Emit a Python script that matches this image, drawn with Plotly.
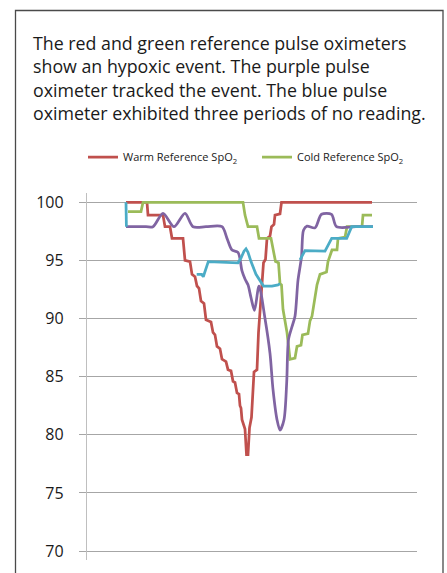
import plotly.graph_objects as go

# ---- data (time in seconds, SpO2 in %) ----
warm_t = [0, 21, 22, 37, 39, 44, 46, 57, 59, 64, 66, 69, 71, 73, 75, 78, 80, 85, 87, 89, 91, 94,
          96, 100, 102, 105, 107, 109, 111, 113, 114, 115, 116, 118, 119, 120.5, 122, 123.5, 125.5,
          128, 131, 132.5, 134, 136, 137.5, 139.5, 141, 144, 145.5, 148, 149, 154, 155.5, 246]
warm_v = [100, 100, 98.9, 98.9, 97.9, 97.9, 96.9, 96.9, 95.0, 94.9, 93.8, 93.6, 92.8, 92.6, 91.5, 91.3,
          89.9, 89.7, 88.8, 88.6, 87.6, 87.4, 86.5, 86.3, 85.6, 85.5, 84.6, 84.5, 83.6, 83.5, 82.5, 82.3,
          81.3, 80.6, 80.5, 78.3, 78.3, 80.6, 81.5, 85.4, 85.6, 88.8, 90.5, 92.5, 94.8, 95.1, 96.9, 97.1,
          97.9, 98.1, 98.9, 99.0, 100, 100]

cold_t = [2, 15, 17, 117, 119, 122, 131, 133, 145, 147, 149.5, 152.5, 154, 155.5, 157, 161, 164, 169,
          171, 175, 176.5, 182, 184, 186, 187.5, 189, 191, 194, 200.5, 202, 206, 211, 212, 219, 221,
          236, 237, 246]
cold_v = [99.2, 99.2, 100, 100, 98.9, 97.9, 97.9, 96.9, 96.9, 95.9, 94.9, 94.8, 93.0, 92.9, 90.8, 88.8,
          86.5, 86.6, 87.6, 87.7, 88.6, 88.7, 89.8, 90.2, 91.0, 91.9, 92.9, 93.8, 94.0, 94.9, 95.9, 95.9,
          96.9, 97.0, 97.9, 97.9, 98.9, 98.9]

purple_t = [0, 20, 27, 37, 48, 59, 67, 80, 96, 101, 106, 112, 116, 119, 122, 125, 128.5, 133, 139, 144,
            147, 151, 154, 158, 160.7, 162.5, 166, 169, 172, 175.5, 177.5, 181, 189, 195.5, 205.5,
            210.5, 230, 247]
purple_v = [97.9, 97.9, 97.9, 99.05, 97.9, 99.05, 97.9, 97.9, 97.9, 96.9, 95.9, 95.7, 94.1, 93.4, 92.9,
            91.8, 90.7, 92.8, 90.0, 87.0, 83.9, 81.3, 80.4, 81.3, 84.5, 88.2, 89.3, 90.2, 93.3, 95.3,
            97.6, 97.95, 97.8, 98.97, 98.97, 97.9, 97.9, 97.9]

blue_t = [0, 0.4, None, 70.7, 75.7, 77.3, 82.3, 112, 115, 118, 120, 122, 125, 130, 136, 137.5, 146,
          152, 154, None, 174, 179, 199, 205.7, 220.7, 225.7, 247]
blue_v = [100, 97.9, None, 93.8, 93.8, 93.6, 94.9, 94.8, 95.2, 95.8, 96.0, 95.7, 94.9, 93.8, 92.9, 92.8,
          92.8, 92.9, 93.0, None, 95.05, 95.85, 95.8, 96.9, 96.9, 97.9, 97.9]

y_ticks = [70, 75, 80, 85, 90, 95, 100]

title_lines = [
    "The red and green reference pulse oximeters",
    "show an hypoxic event. The purple pulse",
    "oximeter tracked the event. The blue pulse",
    "oximeter exhibited three periods of no reading.",
]

FONT = "Open Sans"
W, H = 447, 573
L, R, T, B = 87, 30, 193, 13
PW, PH = W - L - R, H - T - B


def px_x(px):
    return (px - L) / PW


def px_y(py):
    return (H - B - py) / PH


fig = go.Figure()
fig.add_trace(go.Scatter(x=warm_t, y=warm_v, mode="lines", name="Warm Reference SpO<sub>2</sub>",
                         line=dict(color="#C0504D", width=2.75)))
fig.add_trace(go.Scatter(x=cold_t, y=cold_v, mode="lines", name="Cold Reference SpO<sub>2</sub>",
                         line=dict(color="#9BBB59", width=2.75)))
fig.add_trace(go.Scatter(x=purple_t, y=purple_v, mode="lines", name="Purple pulse oximeter",
                         line=dict(color="#8064A2", width=2.75, shape="spline", smoothing=0.8),
                         showlegend=False))
fig.add_trace(go.Scatter(x=blue_t, y=blue_v, mode="lines", name="Blue pulse oximeter",
                         line=dict(color="#4BACC6", width=2.75), connectgaps=False,
                         showlegend=False))

baselines = [48.5, 72.2, 95.8, 119.4]
for txt, bl in zip(title_lines, baselines):
    fig.add_annotation(text=txt, xref="paper", yref="paper", x=px_x(31), y=px_y(bl - 6),
                       xanchor="left", yanchor="middle", showarrow=False,
                       font=dict(family=FONT, size=17.8, color="#1a1a1a"))

fig.add_shape(type="rect", xref="paper", yref="paper",
              x0=px_x(15.5), x1=px_x(443), y0=px_y(620), y1=px_y(10.5),
              line=dict(color="#4a4a4a", width=1.3), fillcolor="rgba(0,0,0,0)", layer="above")

fig.update_layout(
    width=W, height=H,
    margin=dict(l=L, r=R, t=T, b=B, pad=0, autoexpand=False),
    paper_bgcolor="white", plot_bgcolor="white",
    font=dict(family=FONT, color="#1a1a1a"),
    showlegend=True,
    legend=dict(orientation="h", x=px_x(83), y=px_y(157), xanchor="left", yanchor="middle",
                font=dict(family=FONT, size=11, color="#1a1a1a"),
                entrywidth=129, entrywidthmode="pixels", bgcolor="rgba(0,0,0,0)",
                itemwidth=30, tracegroupgap=0),
    xaxis=dict(range=[-39, 291], showgrid=False, zeroline=False, showline=False,
               showticklabels=False, ticks=""),
    yaxis=dict(range=[69.23, 100.8], tickvals=y_ticks, ticktext=[str(v) for v in y_ticks],
               showgrid=True, gridcolor="#A6A6A6", gridwidth=1, zeroline=False,
               showline=True, linecolor="#BFBFBF", linewidth=1.3,
               ticks="outside", ticklen=7, tickcolor="#A6A6A6", tickwidth=1,
               ticklabelstandoff=12,
               tickfont=dict(family=FONT, size=16, color="#1a1a1a")),
)

fig.write_html("out.html", config={"displayModeBar": False},
               post_script="document.body.style.margin='0';document.body.style.padding='0';")
